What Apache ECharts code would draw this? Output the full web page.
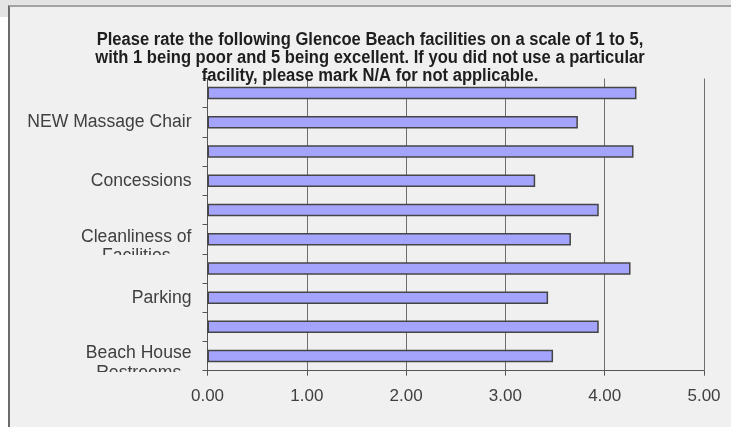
<!DOCTYPE html>
<html>
<head>
<meta charset="utf-8">
<script src="https://cdn.jsdelivr.net/npm/echarts@6/dist/echarts.min.js"></script>
<style>
  html, body { margin: 0; padding: 0; background: #ffffff; width: 731px; height: 427px; overflow: hidden; }
  #topStrip { position: absolute; left: 0; top: 0; width: 731px; height: 5px; background: #e4e4e4; }
  #corner { position: absolute; left: 0; top: 0; width: 8px; height: 17px; background: #e4e4e4; }
  #frame { position: absolute; left: 8px; top: 5px; width: 730px; height: 430px; background: #f0f0f0;
           border-top: 2px solid #a3a3a3; border-left: 2px solid #6b6b6b; }
  #chart { position: absolute; left: 0; top: 0; width: 731px; height: 427px; }
</style>
</head>
<body>
<div id="topStrip"></div>
<div id="corner"></div>
<div id="frame"></div>
<div id="chart"></div>
<script>
// Survey question shown as the chart heading
const titleLines = [
  'Please rate the following Glencoe Beach facilities on a scale of 1 to 5,',
  'with 1 being poor and 5 being excellent. If you did not use a particular',
  'facility, please mark N/A for not applicable.'
];

// Facilities, listed bottom to top; a "\n" marks where a long label wraps
const categories = [
  'Beach House\nRestrooms',
  'Beach House Showers',
  'Parking',
  'Lifeguards',
  'Cleanliness of\nFacilities',
  'Cleanliness of Beach',
  'Concessions',
  'Gate Staff Courtesy',
  'NEW Massage Chair',
  'Overall Beach Experience'
];

// Average rating per facility (same order as categories)
const ratings = [3.48, 3.94, 3.43, 4.26, 3.66, 3.94, 3.30, 4.29, 3.73, 4.32];

// Rating scale
const scaleMin = 0;
const scaleMax = 5;
const scaleStep = 1;

const FONT = '"Liberation Sans", Arial, sans-serif';
const LABEL_COLOR = '#404040';
const PLOT_BG = '#f0f0f0';

const chart = echarts.init(document.getElementById('chart'), null, { renderer: 'canvas' });

const option = {
  animation: false,
  backgroundColor: 'transparent',
  grid: {
    left: 207.5,
    right: 27,
    top: 78.5,
    bottom: 56.3,
    containLabel: false,
    outerBoundsMode: 'none'
  },
  xAxis: {
    type: 'value',
    min: scaleMin,
    max: scaleMax,
    interval: scaleStep,
    axisLine: { show: true, lineStyle: { color: '#555555', width: 1 } },
    axisTick: { show: true, length: 5, lineStyle: { color: '#555555' } },
    axisLabel: {
      margin: 17,
      fontFamily: FONT,
      fontSize: 17,
      color: LABEL_COLOR,
      formatter: v => v.toFixed(2)
    },
    splitLine: { show: true, lineStyle: { color: '#6e6e6e', width: 1 } }
  },
  yAxis: {
    type: 'category',
    data: categories,
    axisLine: { show: true, lineStyle: { color: '#555555', width: 1 } },
    axisTick: { show: true, interval: 0, length: 5, lineStyle: { color: '#555555' } },
    axisLabel: {
      interval: 1,
      margin: 16,
      fontFamily: FONT,
      fontSize: 17.6,
      color: LABEL_COLOR,
      formatter: function (name) {
        const parts = name.split('\n');
        if (parts.length < 2) return name;
        return '{first|' + parts[0] + '}\n{second|' + parts[1] + '}';
      },
      rich: {
        first: { fontFamily: FONT, fontSize: 17.6, color: LABEL_COLOR, lineHeight: 34, align: 'center' },
        second: { fontFamily: FONT, fontSize: 17.6, color: LABEL_COLOR, lineHeight: 5, align: 'center' }
      }
    },
    splitLine: { show: false }
  },
  series: [{
    type: 'bar',
    data: ratings,
    barWidth: 12.5,
    itemStyle: {
      color: '#a4a4fc',
      borderColor: '#454545',
      borderWidth: 1.5
    }
  }]
};

chart.setOption(option);

// Heading: bold text squeezed horizontally into a narrow face
const heading = {
  type: 'text',
  z: 50,
  silent: true,
  x: 370,
  y: 31,
  scaleX: 0.92,
  style: {
    text: titleLines.join('\n'),
    align: 'center',
    verticalAlign: 'top',
    fontFamily: FONT,
    fontWeight: 'bold',
    fontSize: 18,
    lineHeight: 18,
    fill: '#1e1e1e'
  }
};

// Wrapped labels only show the top of their second line: it is cut at the
// bottom edge of the label's band, like a cell that is too short.
const plotTop = option.grid.top;
const plotBottom = 427 - option.grid.bottom;
const band = (plotBottom - plotTop) / categories.length;
const covers = [];
categories.forEach(function (name, i) {
  if (name.indexOf('\n') < 0 || i % 2 !== 0) return;
  const center = chart.convertToPixel({ yAxisIndex: 0 }, i);
  const cut = center + band / 2 + 1.2;
  covers.push({
    type: 'rect',
    z: 100,
    silent: true,
    shape: { x: 20, y: cut, width: 180, height: 14 },
    style: { fill: PLOT_BG }
  });
});
chart.setOption({ graphic: [heading].concat(covers) });
</script>
</body>
</html>
